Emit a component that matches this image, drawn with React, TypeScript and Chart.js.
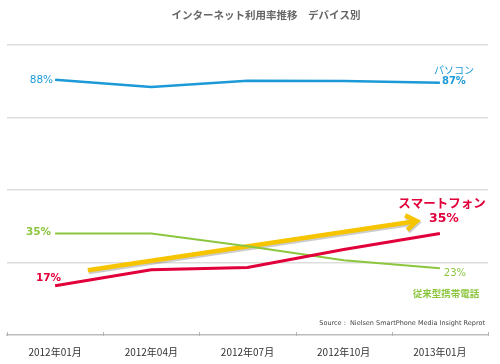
import React, { useEffect, useRef } from "react";
import { Chart, registerables } from "chart.js";

Chart.register(...registerables);

const categories = ["2012年01月", "2012年04月", "2012年07月", "2012年10月", "2013年01月"];
const pcValues = [88, 85.5, 87.7, 87.6, 87];
const smartphoneValues = [17, 22.5, 23.3, 29.5, 35];
const featurePhoneValues = [35, 35, 30.6, 25.8, 23];
const yTicks = [0, 25, 50, 75, 100];
// trend arrow in data space: [category index, value]
const arrowStart = [0.34, 22.3];
const arrowEnd = [3.76, 39.3];

const titleText = "インターネット利用率推移　デバイス別";
const sourceText = "Source :  Nielsen SmartPhone Media Insight Reprot";

const BLUE = "#1c9ad8";
const RED = "#e2003b";
const GREEN = "#8cc63f";
const YELLOW = "#f6c500";
const JP = '"Noto Sans CJK JP", "DejaVu Sans", sans-serif';
const NUM = '"DejaVu Sans", sans-serif';

const overlayPlugin = {
  id: "overlay",
  beforeDatasetsDraw(chart: any) {
    const ctx = chart.ctx;
    const xs = chart.scales.x;
    const ys = chart.scales.y;
    const x1 = xs.getPixelForValue(arrowStart[0]);
    const y1 = ys.getPixelForValue(arrowStart[1]);
    const x2 = xs.getPixelForValue(arrowEnd[0]);
    const y2 = ys.getPixelForValue(arrowEnd[1]);
    const ang = Math.atan2(y2 - y1, x2 - x1);
    const head = 13;
    const drawArrow = (dx: number, dy: number, color: string, w: number) => {
      ctx.save();
      ctx.strokeStyle = color;
      ctx.lineWidth = w;
      ctx.lineCap = "butt";
      ctx.lineJoin = "miter";
      ctx.beginPath();
      ctx.moveTo(x1 + dx, y1 + dy);
      ctx.lineTo(x2 + dx - Math.cos(ang) * 3, y2 + dy - Math.sin(ang) * 3);
      ctx.stroke();
      ctx.beginPath();
      ctx.moveTo(x2 + dx - head * Math.cos(ang - 0.6), y2 + dy - head * Math.sin(ang - 0.6));
      ctx.lineTo(x2 + dx, y2 + dy);
      ctx.lineTo(x2 + dx - head * Math.cos(ang + 0.6), y2 + dy - head * Math.sin(ang + 0.6));
      ctx.stroke();
      ctx.restore();
    };
    drawArrow(1, 1.8, "rgba(110,110,110,0.35)", 4.5);
    drawArrow(0, 0, YELLOW, 4.5);
  },
  afterDraw(chart: any) {
    const ctx = chart.ctx;
    const area = chart.chartArea;
    const xs = chart.scales.x;
    ctx.save();
    ctx.strokeStyle = "#b5b5b5";
    ctx.lineWidth = 1;
    for (let i = 0; i <= categories.length; i++) {
      const x = Math.round(xs.getPixelForValue(i - 0.5)) + 0.5;
      ctx.beginPath();
      ctx.moveTo(x, area.bottom - 3);
      ctx.lineTo(x, area.bottom + 1);
      ctx.stroke();
    }
    ctx.fillStyle = "#666";
    ctx.font = `bold 10.5px ${JP}`;
    ctx.textAlign = "center";
    ctx.textBaseline = "middle";
    ctx.fillText(titleText, 266, 15);
    ctx.fillStyle = "#444";
    ctx.font = `6.5px ${NUM}`;
    ctx.textAlign = "right";
    ctx.fillText(sourceText, 485, 323);

    const pt = (ds: number, i: number) => chart.getDatasetMeta(ds).data[i];
    const last = categories.length - 1;
    ctx.textAlign = "right";
    ctx.font = `10.5px ${NUM}`;
    ctx.fillStyle = BLUE;
    let p = pt(0, 0);
    ctx.fillText(pcValues[0] + "%", p.x - 2, p.y);
    ctx.font = `bold 10.5px ${NUM}`;
    ctx.fillStyle = GREEN;
    p = pt(2, 0);
    ctx.fillText(featurePhoneValues[0] + "%", p.x - 4, p.y - 1);
    ctx.fillStyle = RED;
    p = pt(1, 0);
    ctx.fillText(smartphoneValues[0] + "%", p.x + 6, p.y - 7);

    ctx.textAlign = "center";
    p = pt(0, last);
    ctx.fillStyle = BLUE;
    ctx.font = `10px ${JP}`;
    ctx.fillText("パソコン", p.x + 14, p.y - 12);
    ctx.font = `bold 10px ${NUM}`;
    ctx.fillText(Math.round(pcValues[last]) + "%", p.x + 14, p.y - 1);

    p = pt(1, last);
    ctx.fillStyle = RED;
    ctx.font = `bold 12.5px ${JP}`;
    ctx.fillText("スマートフォン", p.x + 2, p.y - 30);
    ctx.font = `bold 12.5px ${NUM}`;
    ctx.fillText(smartphoneValues[last] + "%", p.x + 4, p.y - 15);

    p = pt(2, last);
    ctx.fillStyle = GREEN;
    ctx.font = `10px ${NUM}`;
    ctx.fillText(featurePhoneValues[last] + "%", p.x + 15, p.y + 5);
    ctx.font = `bold 9.5px ${JP}`;
    ctx.fillText("従来型携帯電話", p.x + 6, p.y + 25);
    ctx.restore();
  },
};

export default function App() {
  const ref = useRef<HTMLCanvasElement>(null);
  useEffect(() => {
    if (!ref.current) return;
    const chart = new Chart(ref.current, {
      type: "line",
      data: {
        labels: categories,
        datasets: [
          { label: "パソコン", data: pcValues, borderColor: BLUE, borderWidth: 2.5 },
          { label: "スマートフォン", data: smartphoneValues, borderColor: RED, borderWidth: 3 },
          { label: "従来型携帯電話", data: featurePhoneValues, borderColor: GREEN, borderWidth: 2 },
        ],
      },
      options: {
        responsive: false,
        animation: false,
        events: [],
        layout: { padding: { left: 7, right: 12, top: 45, bottom: 0 } },
        elements: { point: { radius: 0 }, line: { tension: 0 } },
        plugins: { legend: { display: false }, title: { display: false }, tooltip: { enabled: false } },
        scales: {
          x: {
            offset: true,
            grid: { display: false },
            border: { display: true, color: "#bdbdbd", width: 1.5 },
            ticks: { color: "#333", font: { family: JP, size: 10 }, padding: 3, maxRotation: 0 },
            afterFit: (s: any) => { s.height = 29; },
          },
          y: {
            min: 0,
            max: 100,
            afterBuildTicks: (s: any) => { s.ticks = yTicks.map((v) => ({ value: v })); },
            ticks: { display: false },
            grid: {
              color: (c: any) => (c.tick && c.tick.value === 0 ? "rgba(0,0,0,0)" : "#dddddd"),
              lineWidth: 1.5,
              drawTicks: false,
            },
            border: { display: false },
            afterFit: (s: any) => { s.width = 0; },
          },
        },
      },
      plugins: [overlayPlugin],
    });
    return () => chart.destroy();
  }, []);
  return (
    <div style={{ position: "absolute", left: 0, top: 0, width: 500, height: 364, background: "#fff" }}>
      <canvas ref={ref} width={500} height={364} style={{ width: 500, height: 364, display: "block" }} />
    </div>
  );
}
